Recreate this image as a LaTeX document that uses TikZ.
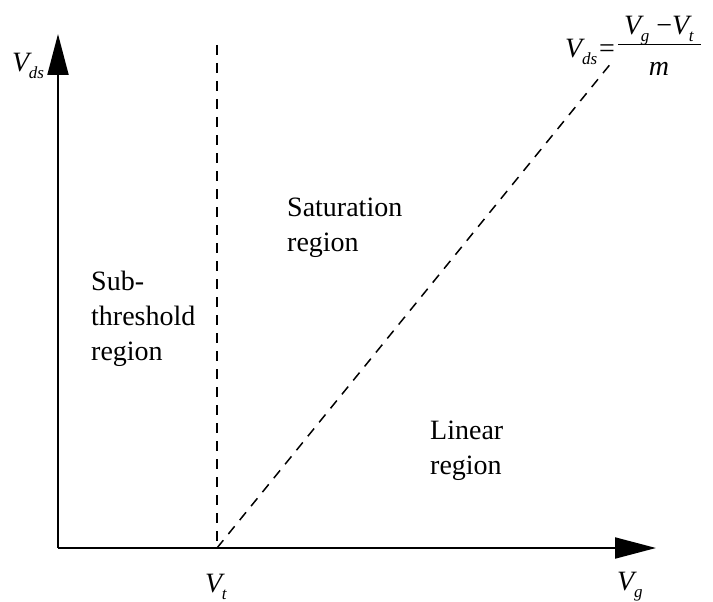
\documentclass[tikz,border=0pt]{standalone}
\usepackage{fontspec}
\setmainfont{Liberation Serif}
\usetikzlibrary{arrows.meta}
\newcommand\Vs[1]{\textit{V}\kern-3pt\raisebox{-7pt}{\fontsize{17}{17}\selectfont\textit{#1}}}
\begin{document}
\begin{tikzpicture}[x=1pt,y=-1pt,
  lbl/.style={font=\fontsize{28}{35}\selectfont, inner sep=0pt, align=left},
  axisline/.style={line width=2pt,-{Triangle[length=41pt,width=21pt]}},
  bound/.style={line width=1.5pt,dash pattern=on 10pt off 8pt}]
\useasboundingbox[fill=white] (0,0) rectangle (713,602);
\coordinate (O) at (58,548);
\coordinate (ytop) at (58,34);
\coordinate (xend) at (656,548);
\coordinate (vt) at (217,548);
\coordinate (vtop) at (217,45);
\coordinate (diag) at (612,62);
\draw[axisline] (O) -- (ytop);
\draw[axisline] (O) -- (xend);
\draw[bound] (vtop) -- (vt);
\draw[bound] (vt) -- (diag);
\node[lbl, anchor=base west] (vdslbl) at (12,72) {\Vs{ds}};
\node[lbl, anchor=base west] (vtlbl) at (205,592) {\Vs{t}};
\node[lbl, anchor=base west] (vglbl) at (617,590) {\Vs{g}};
\node[lbl, anchor=base west] (sat) at (287,251) {Saturation\\region};
\node[lbl, anchor=base west] (sub) at (91,360) {Sub-\\threshold\\region};
\node[lbl, anchor=base west] (lin) at (430,474) {Linear\\region};
% formula V_ds = (V_g - V_t)/m
\node[lbl, anchor=base west] (flhs) at (565,58) {\Vs{ds}\hspace{2pt}=};
\coordinate (barL) at (618,44);
\coordinate (barR) at (701,44);
\draw[line width=0.8pt] (barL) -- (barR);
\node[lbl, anchor=base] (fnum) at (659,35) {\Vs{g}\hspace{7pt}−\Vs{t}};
\node[lbl, anchor=base] (fden) at (659,76) {\textit{m}};
\end{tikzpicture}
\end{document}
